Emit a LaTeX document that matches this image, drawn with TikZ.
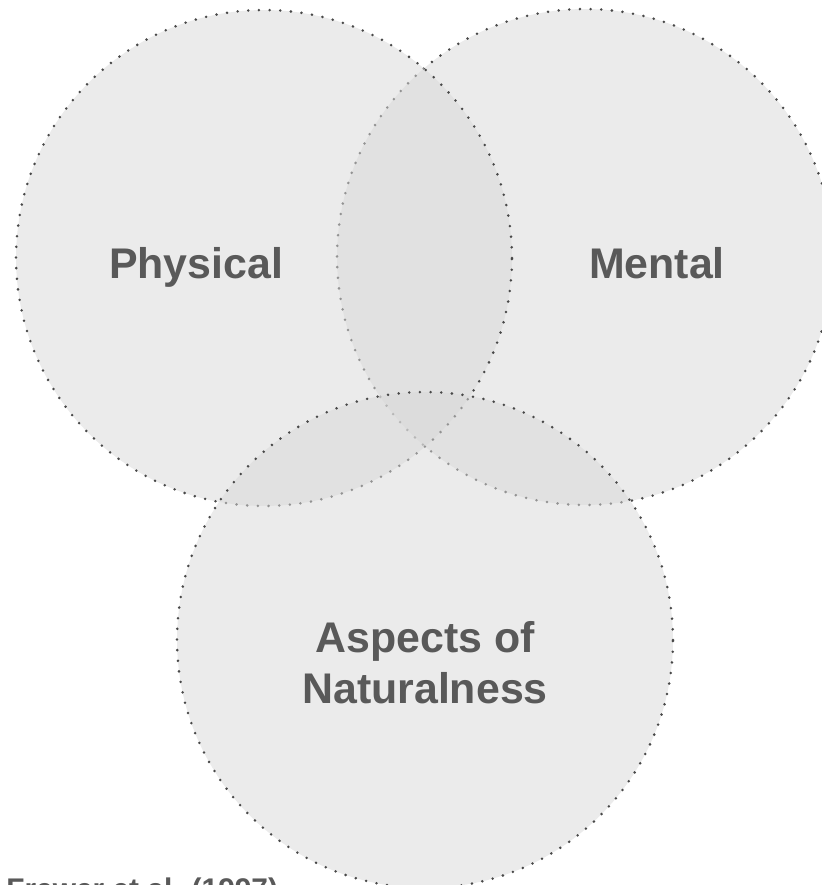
\documentclass[tikz,border=0pt]{standalone}
\usepackage{fontspec}
\setmainfont{Liberation Sans}
\usetikzlibrary{positioning}

\definecolor{setfill}{RGB}{216,216,216}
\definecolor{setline}{RGB}{72,72,72}
\definecolor{settext}{RGB}{89,89,89}

\begin{document}
\begin{tikzpicture}[x=0.02cm, y=-0.02cm,
    set/.style={circle, minimum size=9.92cm, inner sep=0pt,
        fill=setfill, fill opacity=0.52, draw=setline, line width=1.6pt,
        dash pattern=on 0pt off 6.07pt, line cap=round},
    set label/.style={text=settext, align=center, inner sep=0pt,
        font=\fontsize{24.4}{28.9}\selectfont\bfseries},
    source/.style={text=settext, anchor=base west, inner sep=0pt,
        font=\fontsize{17}{20}\selectfont\bfseries}]

    \useasboundingbox (0,0) rectangle (821,885);

    % the three sets, mental first so physical lies over it
    \node [set] (mental) at (585,257) {};
    \node [set] (physical) at (264,258) {};
    \node [set] (aspects) at (425,640) {};

    \node [set label, anchor=base] (physical-label) at (196,278) {Physical};
    \node [set label, anchor=base] (mental-label) at (657,278) {Mental};
    \node [set label] (aspects-label) at (425,663) {Aspects of\\Naturalness};

    \node [source] (source-label) at (6,899) {Frewer et al. (1997)};

\end{tikzpicture}
\end{document}
